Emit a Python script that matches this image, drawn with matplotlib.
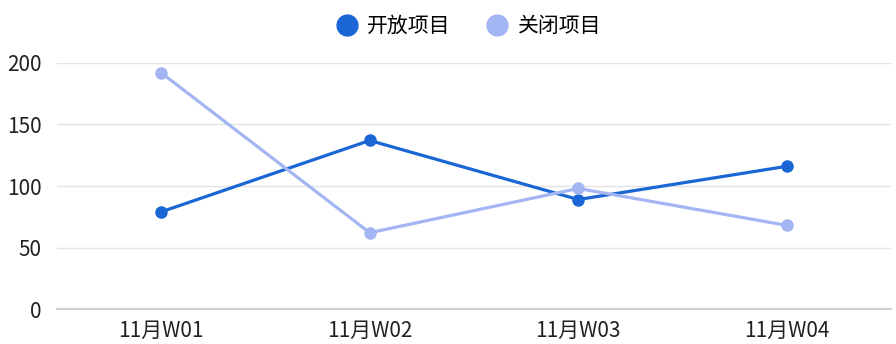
import matplotlib
matplotlib.use("Agg")
import matplotlib.pyplot as plt  # type: ignore
from matplotlib.lines import Line2D  # type: ignore

plt.rcParams["font.family"] = ["Noto Sans CJK SC", "DejaVu Sans"]

weeks = ["11月W01", "11月W02", "11月W03", "11月W04"]
open_items = [79, 137, 89, 116]
closed_items = [192, 62, 98, 68]
series_names = ["开放项目", "关闭项目"]
colors = ["#1a66d4", "#a3b5f2"]

fig = plt.figure(figsize=(8.96, 3.44), dpi=100)
ax = fig.add_axes([0.0636, 0.1017, 0.9308, 0.7152])

x = range(len(weeks))
for vals, name, c in zip([open_items, closed_items], series_names, colors):
    ax.plot(x, vals, color=c, lw=2.3, marker="o", ms=8, label=name, zorder=3)

ax.set_xlim(-0.5, len(weeks) - 0.5)
ax.set_ylim(0, 200)
ax.set_yticks([0, 50, 100, 150, 200])
ax.set_xticks(list(x))
ax.set_xticklabels(weeks)
ax.grid(axis="y", color="#e3e3e3", lw=1)
ax.set_axisbelow(True)
for s in ["top", "right", "left"]:
    ax.spines[s].set_visible(False)
ax.spines["bottom"].set_color("#d0d0d0")
ax.spines["bottom"].set_linewidth(1.5)
ax.tick_params(axis="y", length=0, pad=11, labelsize=15, labelcolor="#222222")
ax.tick_params(axis="x", length=0, pad=8, labelsize=15, labelcolor="#222222")

handles = [Line2D([], [], color=c, marker="o", ls="", ms=15) for c in colors]
fig.legend(handles, series_names, loc="center", bbox_to_anchor=(0.523, 0.924), ncol=2,
           frameon=False, fontsize=15, handlelength=1.0, handletextpad=0.5,
           columnspacing=1.7)

fig.savefig("out.png", dpi=100)
